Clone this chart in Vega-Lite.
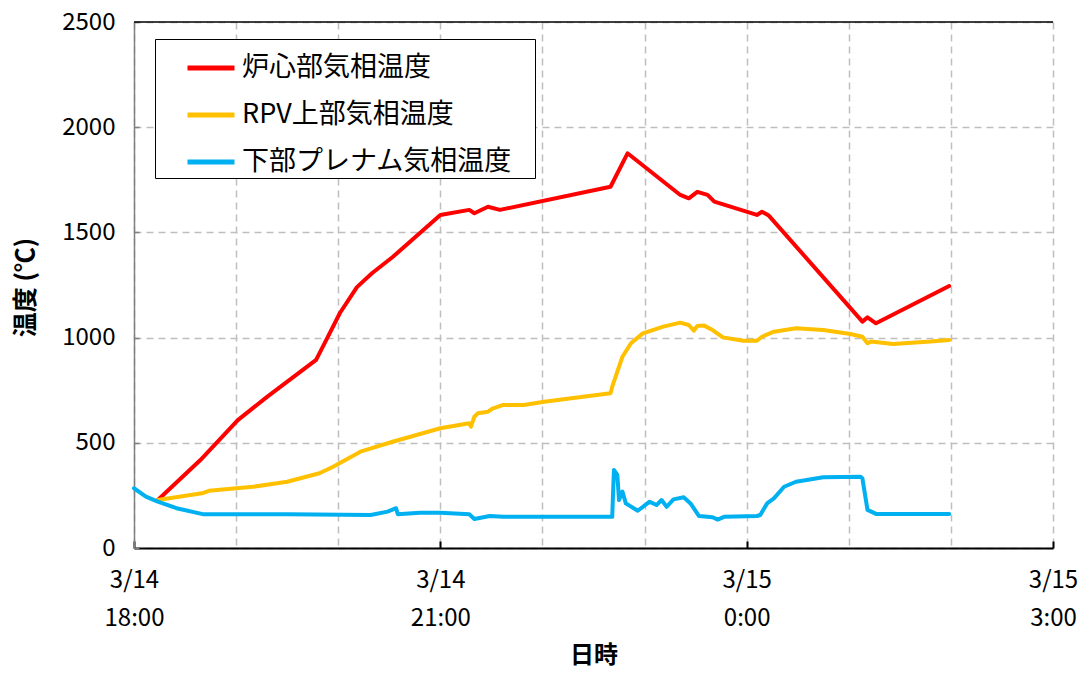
{
  "$schema": "https://vega.github.io/schema/vega-lite/v6.json",
  "width": 919,
  "height": 526,
  "autosize": "none",
  "padding": {"left": 134, "top": 22, "right": 36, "bottom": 125},
  "background": "white",
  "config": {"view": {"stroke": null}, "font": "Noto Sans CJK JP"},
  "layer": [
    {
      "data": {"values": [{"top": 2500}]},
      "mark": {"type": "rule", "color": "black", "strokeWidth": 1.5},
      "encoding": {"y": {"field": "top", "type": "quantitative"}}
    },
    {
      "data": {"values": [
        {"time": "2011-03-14T18:14", "series": "炉心部気相温度", "temp": 228},
        {"time": "2011-03-14T18:39", "series": "炉心部気相温度", "temp": 418},
        {"time": "2011-03-14T19:01", "series": "炉心部気相温度", "temp": 608},
        {"time": "2011-03-14T19:18", "series": "炉心部気相温度", "temp": 717},
        {"time": "2011-03-14T19:47", "series": "炉心部気相温度", "temp": 894},
        {"time": "2011-03-14T19:53", "series": "炉心部気相温度", "temp": 989},
        {"time": "2011-03-14T20:01", "series": "炉心部気相温度", "temp": 1117},
        {"time": "2011-03-14T20:11", "series": "炉心部気相温度", "temp": 1240},
        {"time": "2011-03-14T20:20", "series": "炉心部気相温度", "temp": 1307},
        {"time": "2011-03-14T20:32", "series": "炉心部気相温度", "temp": 1383},
        {"time": "2011-03-14T21:00", "series": "炉心部気相温度", "temp": 1583},
        {"time": "2011-03-14T21:17", "series": "炉心部気相温度", "temp": 1607},
        {"time": "2011-03-14T21:20", "series": "炉心部気相温度", "temp": 1591},
        {"time": "2011-03-14T21:28", "series": "炉心部気相温度", "temp": 1622},
        {"time": "2011-03-14T21:35", "series": "炉心部気相温度", "temp": 1607},
        {"time": "2011-03-14T22:40", "series": "炉心部気相温度", "temp": 1717},
        {"time": "2011-03-14T22:50", "series": "炉心部気相温度", "temp": 1876},
        {"time": "2011-03-14T23:21", "series": "炉心部気相温度", "temp": 1678},
        {"time": "2011-03-14T23:26", "series": "炉心部気相温度", "temp": 1662},
        {"time": "2011-03-14T23:31", "series": "炉心部気相温度", "temp": 1693},
        {"time": "2011-03-14T23:37", "series": "炉心部気相温度", "temp": 1678},
        {"time": "2011-03-14T23:41", "series": "炉心部気相温度", "temp": 1646},
        {"time": "2011-03-15T00:06", "series": "炉心部気相温度", "temp": 1583},
        {"time": "2011-03-15T00:09", "series": "炉心部気相温度", "temp": 1598},
        {"time": "2011-03-15T00:13", "series": "炉心部気相温度", "temp": 1580},
        {"time": "2011-03-15T01:08", "series": "炉心部気相温度", "temp": 1076},
        {"time": "2011-03-15T01:11", "series": "炉心部気相温度", "temp": 1096},
        {"time": "2011-03-15T01:16", "series": "炉心部気相温度", "temp": 1068},
        {"time": "2011-03-15T01:59", "series": "炉心部気相温度", "temp": 1245},

        {"time": "2011-03-14T18:14", "series": "RPV上部気相温度", "temp": 228},
        {"time": "2011-03-14T18:40", "series": "RPV上部気相温度", "temp": 260},
        {"time": "2011-03-14T18:44", "series": "RPV上部気相温度", "temp": 272},
        {"time": "2011-03-14T19:10", "series": "RPV上部気相温度", "temp": 291},
        {"time": "2011-03-14T19:30", "series": "RPV上部気相温度", "temp": 315},
        {"time": "2011-03-14T19:49", "series": "RPV上部気相温度", "temp": 355},
        {"time": "2011-03-14T19:57", "series": "RPV上部気相温度", "temp": 386},
        {"time": "2011-03-14T20:13", "series": "RPV上部気相温度", "temp": 458},
        {"time": "2011-03-14T20:32", "series": "RPV上部気相温度", "temp": 505},
        {"time": "2011-03-14T21:00", "series": "RPV上部気相温度", "temp": 569},
        {"time": "2011-03-14T21:17", "series": "RPV上部気相温度", "temp": 593},
        {"time": "2011-03-14T21:18", "series": "RPV上部気相温度", "temp": 577},
        {"time": "2011-03-14T21:20", "series": "RPV上部気相温度", "temp": 624},
        {"time": "2011-03-14T21:22", "series": "RPV上部気相温度", "temp": 640},
        {"time": "2011-03-14T21:28", "series": "RPV上部気相温度", "temp": 648},
        {"time": "2011-03-14T21:31", "series": "RPV上部気相温度", "temp": 664},
        {"time": "2011-03-14T21:37", "series": "RPV上部気相温度", "temp": 680},
        {"time": "2011-03-14T21:49", "series": "RPV上部気相温度", "temp": 680},
        {"time": "2011-03-14T22:01", "series": "RPV上部気相温度", "temp": 695},
        {"time": "2011-03-14T22:40", "series": "RPV上部気相温度", "temp": 735},
        {"time": "2011-03-14T22:41", "series": "RPV上部気相温度", "temp": 767},
        {"time": "2011-03-14T22:47", "series": "RPV上部気相温度", "temp": 909},
        {"time": "2011-03-14T22:52", "series": "RPV上部気相温度", "temp": 973},
        {"time": "2011-03-14T22:59", "series": "RPV上部気相温度", "temp": 1020},
        {"time": "2011-03-14T23:11", "series": "RPV上部気相温度", "temp": 1052},
        {"time": "2011-03-14T23:21", "series": "RPV上部気相温度", "temp": 1071},
        {"time": "2011-03-14T23:26", "series": "RPV上部気相温度", "temp": 1060},
        {"time": "2011-03-14T23:29", "series": "RPV上部気相温度", "temp": 1033},
        {"time": "2011-03-14T23:31", "series": "RPV上部気相温度", "temp": 1055},
        {"time": "2011-03-14T23:35", "series": "RPV上部気相温度", "temp": 1057},
        {"time": "2011-03-14T23:40", "series": "RPV上部気相温度", "temp": 1036},
        {"time": "2011-03-14T23:46", "series": "RPV上部気相温度", "temp": 1001},
        {"time": "2011-03-14T23:58", "series": "RPV上部気相温度", "temp": 985},
        {"time": "2011-03-15T00:06", "series": "RPV上部気相温度", "temp": 985},
        {"time": "2011-03-15T00:09", "series": "RPV上部気相温度", "temp": 1004},
        {"time": "2011-03-15T00:16", "series": "RPV上部気相温度", "temp": 1028},
        {"time": "2011-03-15T00:29", "series": "RPV上部気相温度", "temp": 1044},
        {"time": "2011-03-15T00:45", "series": "RPV上部気相温度", "temp": 1036},
        {"time": "2011-03-15T01:01", "series": "RPV上部気相温度", "temp": 1017},
        {"time": "2011-03-15T01:08", "series": "RPV上部気相温度", "temp": 1004},
        {"time": "2011-03-15T01:11", "series": "RPV上部気相温度", "temp": 973},
        {"time": "2011-03-15T01:13", "series": "RPV上部気相温度", "temp": 981},
        {"time": "2011-03-15T01:26", "series": "RPV上部気相温度", "temp": 970},
        {"time": "2011-03-15T01:48", "series": "RPV上部気相温度", "temp": 981},
        {"time": "2011-03-15T01:59", "series": "RPV上部気相温度", "temp": 989},

        {"time": "2011-03-14T18:00", "series": "下部プレナム気相温度", "temp": 284},
        {"time": "2011-03-14T18:07", "series": "下部プレナム気相温度", "temp": 244},
        {"time": "2011-03-14T18:14", "series": "下部プレナム気相温度", "temp": 220},
        {"time": "2011-03-14T18:25", "series": "下部プレナム気相温度", "temp": 189},
        {"time": "2011-03-14T18:41", "series": "下部プレナム気相温度", "temp": 160},
        {"time": "2011-03-14T19:30", "series": "下部プレナム気相温度", "temp": 160},
        {"time": "2011-03-14T20:19", "series": "下部プレナム気相温度", "temp": 157},
        {"time": "2011-03-14T20:29", "series": "下部プレナム気相温度", "temp": 173},
        {"time": "2011-03-14T20:34", "series": "下部プレナム気相温度", "temp": 189},
        {"time": "2011-03-14T20:35", "series": "下部プレナム気相温度", "temp": 160},
        {"time": "2011-03-14T20:48", "series": "下部プレナム気相温度", "temp": 168},
        {"time": "2011-03-14T21:00", "series": "下部プレナム気相温度", "temp": 168},
        {"time": "2011-03-14T21:17", "series": "下部プレナム気相温度", "temp": 160},
        {"time": "2011-03-14T21:20", "series": "下部プレナム気相温度", "temp": 138},
        {"time": "2011-03-14T21:29", "series": "下部プレナム気相温度", "temp": 152},
        {"time": "2011-03-14T21:37", "series": "下部プレナム気相温度", "temp": 148},
        {"time": "2011-03-14T22:41", "series": "下部プレナム気相温度", "temp": 148},
        {"time": "2011-03-14T22:42", "series": "下部プレナム気相温度", "temp": 371},
        {"time": "2011-03-14T22:44", "series": "下部プレナム気相温度", "temp": 347},
        {"time": "2011-03-14T22:45", "series": "下部プレナム気相温度", "temp": 228},
        {"time": "2011-03-14T22:47", "series": "下部プレナム気相温度", "temp": 268},
        {"time": "2011-03-14T22:49", "series": "下部プレナム気相温度", "temp": 212},
        {"time": "2011-03-14T22:56", "series": "下部プレナム気相温度", "temp": 177},
        {"time": "2011-03-14T23:03", "series": "下部プレナム気相温度", "temp": 220},
        {"time": "2011-03-14T23:07", "series": "下部プレナム気相温度", "temp": 204},
        {"time": "2011-03-14T23:10", "series": "下部プレナム気相温度", "temp": 228},
        {"time": "2011-03-14T23:13", "series": "下部プレナム気相温度", "temp": 196},
        {"time": "2011-03-14T23:17", "series": "下部プレナム気相温度", "temp": 231},
        {"time": "2011-03-14T23:23", "series": "下部プレナム気相温度", "temp": 241},
        {"time": "2011-03-14T23:27", "series": "下部プレナム気相温度", "temp": 212},
        {"time": "2011-03-14T23:32", "series": "下部プレナム気相温度", "temp": 152},
        {"time": "2011-03-14T23:40", "series": "下部プレナム気相温度", "temp": 146},
        {"time": "2011-03-14T23:43", "series": "下部プレナム気相温度", "temp": 135},
        {"time": "2011-03-14T23:47", "series": "下部プレナム気相温度", "temp": 149},
        {"time": "2011-03-15T00:06", "series": "下部プレナム気相温度", "temp": 152},
        {"time": "2011-03-15T00:08", "series": "下部プレナム気相温度", "temp": 157},
        {"time": "2011-03-15T00:12", "series": "下部プレナム気相温度", "temp": 212},
        {"time": "2011-03-15T00:16", "series": "下部プレナム気相温度", "temp": 236},
        {"time": "2011-03-15T00:22", "series": "下部プレナム気相温度", "temp": 291},
        {"time": "2011-03-15T00:29", "series": "下部プレナム気相温度", "temp": 315},
        {"time": "2011-03-15T00:45", "series": "下部プレナム気相温度", "temp": 336},
        {"time": "2011-03-15T01:07", "series": "下部プレナム気相温度", "temp": 339},
        {"time": "2011-03-15T01:08", "series": "下部プレナム気相温度", "temp": 331},
        {"time": "2011-03-15T01:11", "series": "下部プレナム気相温度", "temp": 181},
        {"time": "2011-03-15T01:16", "series": "下部プレナム気相温度", "temp": 162},
        {"time": "2011-03-15T01:59", "series": "下部プレナム気相温度", "temp": 162}
      ]},
      "mark": {"type": "line", "strokeWidth": 4, "strokeJoin": "round", "strokeCap": "round"},
      "encoding": {
        "x": {
          "field": "time",
          "type": "temporal",
          "scale": {"nice": false, "domain": [
            {"year": 2011, "month": 3, "date": 14, "hours": 18},
            {"year": 2011, "month": 3, "date": 15, "hours": 3}
          ]},
          "axis": {
            "values": [
              {"year": 2011, "month": 3, "date": 14, "hours": 18},
              {"year": 2011, "month": 3, "date": 14, "hours": 19},
              {"year": 2011, "month": 3, "date": 14, "hours": 20},
              {"year": 2011, "month": 3, "date": 14, "hours": 21},
              {"year": 2011, "month": 3, "date": 14, "hours": 22},
              {"year": 2011, "month": 3, "date": 14, "hours": 23},
              {"year": 2011, "month": 3, "date": 15, "hours": 0},
              {"year": 2011, "month": 3, "date": 15, "hours": 1},
              {"year": 2011, "month": 3, "date": 15, "hours": 2},
              {"year": 2011, "month": 3, "date": 15, "hours": 3}
            ],
            "labelExpr": "hours(datum.value) % 3 == 0 ? [timeFormat(datum.value, '%-m/%-d'), timeFormat(datum.value, '%-H:%M')] : ''",
            "labelFontSize": 24,
            "labelColor": "black",
            "labelLineHeight": 38,
            "labelBaseline": "top",
            "labelPadding": 27,
            "labelFlush": false,
            "labelOverlap": false,
            "tickColor": {"condition": {"test": "hours(datum.value) % 3 == 0", "value": "black"}, "value": "transparent"},
            "tickSize": -7,
            "tickWidth": 2,
            "domainColor": "black",
            "domainWidth": 2,
            "gridColor": "#bfbfbf",
            "gridDash": [7, 5],
            "gridWidth": 1.5,
            "title": "日時",
            "titleFontSize": 24,
            "titleFontWeight": "bold",
            "titleColor": "black",
            "titleY": 107,
            "titleBaseline": "middle"
          }
        },
        "y": {
          "field": "temp",
          "type": "quantitative",
          "scale": {"domain": [0, 2500], "nice": false},
          "axis": {
            "values": [0, 500, 1000, 1500, 2000, 2500],
            "format": "d",
            "labelFontSize": 24,
            "labelColor": "black",
            "labelPadding": 24,
            "tickSize": -5,
            "tickColor": "#7f7f7f",
            "tickWidth": 1.5,
            "domainColor": "#7f7f7f",
            "domainWidth": 1.5,
            "gridColor": "#bfbfbf",
            "gridDash": [7, 5],
            "gridWidth": 1.5,
            "title": "温度 (℃)",
            "titleFontSize": 25,
            "titleFontWeight": "bold",
            "titleColor": "black",
            "titleX": -109,
            "titleY": 265,
            "titleAngle": -90,
            "titleAlign": "center",
            "titleBaseline": "middle"
          }
        },
        "color": {
          "field": "series",
          "type": "nominal",
          "scale": {
            "domain": ["炉心部気相温度", "RPV上部気相温度", "下部プレナム気相温度"],
            "range": ["#ff0000", "#ffc000", "#00b0f0"]
          },
          "legend": {
            "orient": "none",
            "legendX": 21,
            "legendY": 17,
            "title": null,
            "strokeColor": "black",
            "fillColor": "white",
            "padding": 3,
            "symbolType": "stroke",
            "symbolSize": 2209,
            "symbolStrokeWidth": 5,
            "symbolOffset": 27,
            "labelOffset": 5,
            "labelFontSize": 27,
            "labelColor": "black",
            "rowPadding": 8,
            "labelLimit": 600,
            "labelExpr": "datum.label + '\u2800'"
          }
        }
      }
    }
  ]
}
